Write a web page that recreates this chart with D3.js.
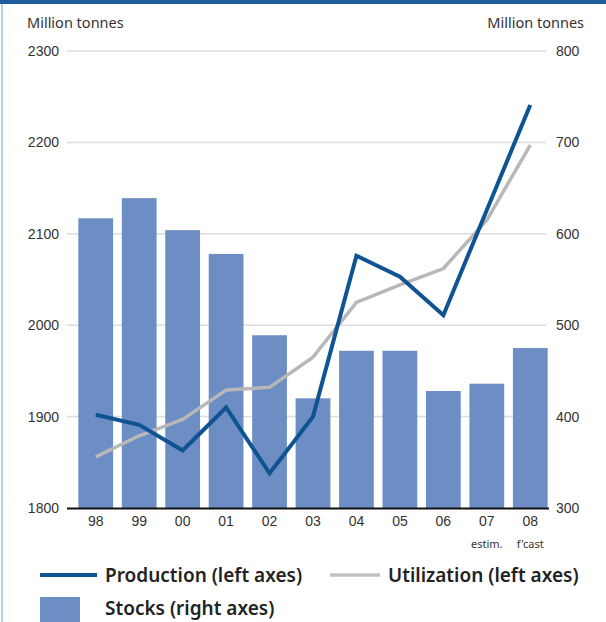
<!DOCTYPE html>
<html>
<head>
<meta charset="utf-8">
<script src="https://cdn.jsdelivr.net/npm/d3@7"></script>
<style>
  body { margin: 0; background: #fff; }
  svg { display: block; font-family: "Noto Sans", "Open Sans", sans-serif; }
</style>
</head>
<body>
<svg id="chart" width="606" height="622"></svg>
<script>
// years on the x axis, with the small second-line notes
var years = ['98', '99', '00', '01', '02', '03', '04', '05', '06', '07', '08'];
var yearNotes = ['', '', '', '', '', '', '', '', '', 'estim.', "f'cast"];

// million tonnes
var stocks = [617, 639, 604, 578, 489, 420, 472, 472, 428, 436, 475];
var production = [1902, 1891, 1863, 1910, 1838, 1900, 2076, 2053, 2011, 2126, 2241];
var utilization = [1856, 1879, 1897, 1929, 1932, 1965, 2025, 2044, 2062, 2115, 2197];

var leftTicks = [1800, 1900, 2000, 2100, 2200, 2300];
var rightTicks = [300, 400, 500, 600, 700, 800];

var svg = d3.select('#chart');

// frame: dark strip on top, pale blue rule down the left edge
svg.append('rect').attr('x', 0).attr('y', 0).attr('width', 606).attr('height', 4).attr('fill', '#1f5c9c');
svg.append('rect').attr('x', 1).attr('y', 4).attr('width', 2).attr('height', 618).attr('fill', '#b3d1ec');

var x = d3.scaleBand()
  .domain(years)
  .range([74, 552])
  .paddingInner(0.2)
  .paddingOuter(0.1);

var yLeft = d3.scaleLinear().domain([1800, 2300]).range([508, 51]);
var yRight = d3.scaleLinear().domain([300, 800]).range([508, 51]);

// gridlines
svg.append('g')
  .selectAll('line')
  .data(leftTicks.slice(1))
  .enter().append('line')
  .attr('x1', 67).attr('x2', 546)
  .attr('y1', function(d) { return yLeft(d); })
  .attr('y2', function(d) { return yLeft(d); })
  .attr('stroke', '#dcdcdc')
  .attr('stroke-width', 1.5);

// bars
svg.append('g')
  .selectAll('rect')
  .data(stocks)
  .enter().append('rect')
  .attr('x', function(d, i) { return x(years[i]); })
  .attr('y', function(d) { return yRight(d); })
  .attr('width', x.bandwidth())
  .attr('height', function(d) { return yRight(300) - yRight(d); })
  .attr('fill', '#6d8dc5');

// baseline
svg.append('line')
  .attr('x1', 67).attr('x2', 549)
  .attr('y1', 508.5).attr('y2', 508.5)
  .attr('stroke', '#111').attr('stroke-width', 2.2);

var fmt = d3.format('d');

// left axis
var leftAxis = d3.axisLeft(yLeft).tickValues(leftTicks).tickFormat(fmt).tickSize(0).tickPadding(0);
var gl = svg.append('g').attr('transform', 'translate(59,0)').call(leftAxis);
gl.select('.domain').remove();
gl.selectAll('text').attr('font-size', 14).attr('fill', '#333');

// right axis
var rightAxis = d3.axisRight(yRight).tickValues(rightTicks).tickFormat(fmt).tickSize(0).tickPadding(0);
var gr = svg.append('g').attr('transform', 'translate(556,0)').call(rightAxis);
gr.select('.domain').remove();
gr.selectAll('text').attr('font-size', 14).attr('fill', '#333');

// x axis labels
var bottomAxis = d3.axisBottom(x).tickSize(0).tickPadding(0);
var gb = svg.append('g').attr('transform', 'translate(0,516)').call(bottomAxis);
gb.select('.domain').remove();
gb.selectAll('text').attr('font-size', 14).attr('fill', '#333');

svg.append('g')
  .selectAll('text')
  .data(yearNotes)
  .enter().append('text')
  .attr('x', function(d, i) { return x(years[i]) + x.bandwidth() / 2; })
  .attr('y', 548)
  .attr('text-anchor', 'middle')
  .attr('font-size', 11)
  .attr('fill', '#333')
  .text(function(d) { return d; });

// axis titles
svg.append('text').attr('x', 27).attr('y', 28).attr('font-size', 14.5).attr('fill', '#333').text('Million tonnes');
svg.append('text').attr('x', 584).attr('y', 28).attr('text-anchor', 'end').attr('font-size', 14.5).attr('fill', '#333').text('Million tonnes');

// lines
var lineLeft = function(values) {
  return d3.line()
    .x(function(d, i) { return x(years[i]) + x.bandwidth() / 2; })
    .y(function(d) { return yLeft(d); })(values);
};

svg.append('path')
  .attr('d', lineLeft(utilization))
  .attr('fill', 'none')
  .attr('stroke', '#b8b8b8')
  .attr('stroke-width', 3.5)
  .attr('stroke-linejoin', 'round');

svg.append('path')
  .attr('d', lineLeft(production))
  .attr('fill', 'none')
  .attr('stroke', '#105392')
  .attr('stroke-width', 4)
  .attr('stroke-linejoin', 'miter');

// legend
var legend = svg.append('g').attr('font-size', 19).attr('font-weight', 600).attr('fill', '#222');
legend.append('line').attr('x1', 40).attr('x2', 97).attr('y1', 575).attr('y2', 575)
  .attr('stroke', '#105392').attr('stroke-width', 4);
legend.append('text').attr('x', 105).attr('y', 582).text('Production (left axes)');
legend.append('line').attr('x1', 330).attr('x2', 380).attr('y1', 575).attr('y2', 575)
  .attr('stroke', '#c2c2c2').attr('stroke-width', 3.5);
legend.append('text').attr('x', 388).attr('y', 582).text('Utilization (left axes)');
legend.append('rect').attr('x', 40).attr('y', 597).attr('width', 40).attr('height', 25).attr('fill', '#6d8dc5');
legend.append('text').attr('x', 105).attr('y', 615).text('Stocks (right axes)');
</script>
</body>
</html>
